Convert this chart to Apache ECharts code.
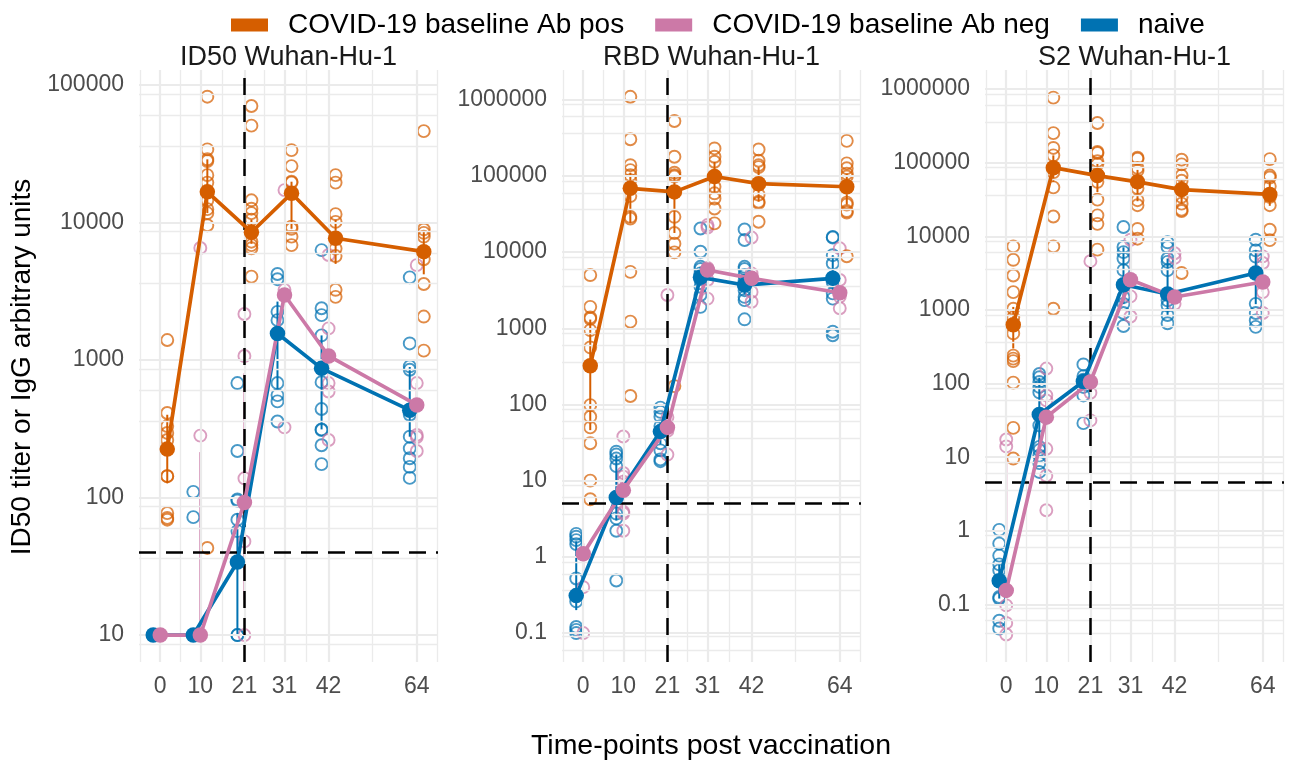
<!DOCTYPE html>
<html><head><meta charset="utf-8">
<script src="https://cdn.jsdelivr.net/npm/echarts@6/dist/echarts.min.js"></script>
<style>html,body{margin:0;padding:0;background:#fff}#c{width:1295px;height:763px}</style>
</head><body><div id="c"></div><script>
// ---------------- DATA ----------------
const timePoints = [0, 10, 21, 31, 42, 64];
const timeTickLabels = ['0', '10', '21', '31', '42', '64'];
const minorTimeGrid = [-5, 5, 15.5, 26, 36.5, 53, 69];
const groupNames = ['COVID-19 baseline Ab pos', 'COVID-19 baseline Ab neg', 'naive'];
const panelTitles = ['ID50 Wuhan-Hu-1', 'RBD Wuhan-Hu-1', 'S2 Wuhan-Hu-1'];
const thresholds = [40, 5, 4.55];

// ID50 panel
const id50PosPts = [
  [1397, 412, 331, 295, 262, 143, 143, 77, 71, 69],
  [82200, 34000, 28800, 28000, 22100, 19500, 14500, 12500, 11700, 9550, 43],
  [70300, 50600, 14500, 12600, 11700, 10500, 7250, 6850, 6500, 4040],
  [33600, 25700, 19800, 19500, 9340, 9000, 7890, 6850],
  [22100, 19500, 11500, 10100, 6460, 5700, 3240, 2880],
  [46200, 8900, 8400, 7900, 5400, 3570, 2070, 1170]
];
const id50NegPts = [
  [10, 10, 10, 10, 10],
  [6530, 282, 10, 10, 10],
  [2160, 1070, 138, 48, 10],
  [17200, 3240, 324],
  [5800, 1700, 680, 590, 262],
  [4900, 680, 285, 275, 218]
];
const id50NaivePts = [
  [10, 10, 10, 10, 10, 10],
  [110, 72, 10, 10, 10, 10],
  [680, 218, 97, 95, 69, 57, 10, 10],
  [4220, 3870, 2240, 1950, 680, 556, 500, 357],
  [6300, 2380, 2120, 1510, 690, 440, 313, 310, 240, 175],
  [3990, 1320, 900, 850, 400, 277, 228, 193, 167, 139]
];
const id50PosMean = [225, 16700, 8500, 16300, 7680, 6140];
const id50PosLo = [127, 11700, 7000, 9000, 5000, 4200];
const id50PosHi = [400, 28800, 10500, 19800, 10500, 8600];
const id50NegMean = [10, 10, 92, 2970, 1070, 471];
const id50NegLo = [10, 10, 18, 2700, 690, 280];
const id50NegHi = [10, 214, 800, 3300, 1600, 680];
const id50NaiveMean = [10, 10, 34, 1560, 870, 432];
const id50NaiveLo = [10, 10, 10, 600, 313, 277];
const id50NaiveHi = [10, 10, 77, 2660, 1510, 890];

// RBD panel
const rbdPosPts = [
  [4990, 1910, 1390, 1330, 946, 560, 98, 69, 50, 31, 10, 5.7],
  [1090000, 302000, 138000, 119000, 102000, 88000, 54300, 29000, 27500, 5500, 1220, 129],
  [525000, 178000, 110000, 102000, 98000, 29000, 17800, 12900, 9900, 174],
  [229000, 178000, 153000, 72000, 59000, 50500, 37300, 23800],
  [222000, 158000, 138000, 130000, 56700, 45800, 44000, 25000],
  [288000, 146000, 126000, 107000, 98000, 44500, 42000, 34500, 33000, 8800]
];
const rbdNegPts = [
  [1.1, 0.4, 0.1],
  [38, 12.6, 11.3, 9.7, 3.9, 3.7, 2.2],
  [2730, 68, 45, 22],
  [22600, 21000, 6200, 4300, 2450],
  [15500, 5250, 3000, 2230],
  [11200, 4300, 2600, 1830]
];
const rbdNaivePts = [
  [2.0, 1.84, 1.66, 1.47, 0.52, 0.26, 0.12, 0.11, 0.1],
  [24, 22, 19.5, 15.5, 3.7, 3.2, 2.2, 0.49],
  [91, 80, 69, 52, 31, 25, 19, 18],
  [20400, 10100, 6400, 6000, 5250, 4300, 3500, 2730, 1910],
  [19800, 14400, 6400, 6000, 5000, 4200, 3160, 2580, 2340, 1310],
  [15800, 15500, 9100, 7070, 4000, 2870, 2450, 900, 810]
];
const rbdPosMean = [322, 68600, 61600, 98000, 79000, 72000];
const rbdPosLo = [46, 24000, 17800, 59000, 45800, 42000];
const rbdPosHi = [1300, 110000, 98000, 153000, 130000, 107000];
const rbdNegMean = [1.1, 7.5, 50, 5810, 4520, 2920];
const rbdNegLo = [0.6, 4, 40, 4500, 3500, 2400];
const rbdNegHi = [1.5, 12, 65, 6500, 5500, 3600];
const rbdNaiveMean = [0.31, 6.0, 44, 4660, 3690, 4520];
const rbdNaiveLo = [0.2, 3, 30, 3500, 2800, 2870];
const rbdNaiveHi = [1.6, 22, 60, 6400, 5000, 9100];

// S2 panel
const s2PosPts = [
  [7310, 4800, 2940, 1750, 1040, 795, 480, 240, 218, 202, 103, 25, 9.6],
  [768000, 253000, 159000, 126000, 74000, 46300, 18600, 7310, 1040],
  [347000, 140000, 135000, 105000, 96000, 55000, 31600, 19300, 14800, 6600],
  [117000, 113000, 85000, 78000, 45000, 31000, 26500, 12600, 9300],
  [110000, 95000, 67000, 57000, 34300, 27800, 23000, 22000, 3180],
  [112000, 67000, 63000, 48000, 34300, 26500, 12300, 8900]
];
const s2NegPts = [
  [17.4, 14, 0.097, 0.056, 0.039],
  [160, 69, 59, 13, 5.6, 1.9],
  [4600, 75, 31.6],
  [9000, 1530, 815],
  [5900, 5100, 1210],
  [5350, 4340, 1750, 910]
];
const s2NaivePts = [
  [1.03, 0.67, 0.46, 0.35, 0.29, 0.126, 0.12, 0.06, 0.047],
  [135, 122, 105, 90, 76, 27, 13.8, 12.5, 10.5, 8.3, 6.3],
  [182, 126, 113, 90, 69, 29],
  [13400, 7160, 6100, 5000, 3470, 1500, 1210, 910, 605],
  [8300, 7160, 5000, 4500, 3470, 1350, 1150, 855, 660],
  [9000, 6460, 5300, 1210, 910, 720, 590]
];
const s2PosMean = [630, 85700, 67000, 55000, 43200, 37100];
const s2PosLo = [300, 55000, 40000, 30000, 28000, 26000];
const s2PosHi = [1100, 126000, 100000, 80000, 60000, 55000];
const s2NegMean = [0.155, 35, 105, 2570, 1500, 2400];
const s2NegLo = [0.06, 8, 75, 1500, 1200, 1750];
const s2NegHi = [10, 60, 120, 8500, 5100, 4300];
const s2NaiveMean = [0.21, 38, 107, 2200, 1650, 3180];
const s2NaiveLo = [0.12, 13, 90, 1200, 850, 1200];
const s2NaiveHi = [0.35, 120, 126, 7100, 5000, 6460];

// ---------------- LAYOUT / STYLE ----------------
const FONT = '"Liberation Sans", Arial, Helvetica, sans-serif';
const colors = ['#D55E00', '#CC79A7', '#0072B2'];
const dodge = [1.75, 0, -1.75];
const drawOrder = [2, 1, 0];
const gridBoxes = [
  { left: 139, top: 70, width: 299, height: 592 },
  { left: 562, top: 70, width: 299, height: 592 },
  { left: 985, top: 70, width: 299, height: 592 }
];
const yRanges = [[6.37, 128500], [0.0417, 2450000], [0.0165, 1820000]];
const xRange = [-5.3, 69.3];

const panels = [
  { pts: [id50PosPts, id50NegPts, id50NaivePts], mean: [id50PosMean, id50NegMean, id50NaiveMean],
    lo: [id50PosLo, id50NegLo, id50NaiveLo], hi: [id50PosHi, id50NegHi, id50NaiveHi] },
  { pts: [rbdPosPts, rbdNegPts, rbdNaivePts], mean: [rbdPosMean, rbdNegMean, rbdNaiveMean],
    lo: [rbdPosLo, rbdNegLo, rbdNaiveLo], hi: [rbdPosHi, rbdNegHi, rbdNaiveHi] },
  { pts: [s2PosPts, s2NegPts, s2NaivePts], mean: [s2PosMean, s2NegMean, s2NaiveMean],
    lo: [s2PosLo, s2NegLo, s2NaiveLo], hi: [s2PosHi, s2NegHi, s2NaiveHi] }
];

const GRID_COLOR = '#EBEBEB';
function gridLines(p) {
  const d = [];
  timePoints.forEach(t => d.push({ xAxis: t, lineStyle: { color: GRID_COLOR, width: 2.2, type: 'solid' } }));
  minorTimeGrid.forEach(t => d.push({ xAxis: t, lineStyle: { color: GRID_COLOR, width: 1.3, type: 'solid' } }));
  const [lo, hi] = yRanges[p];
  for (let k = Math.floor(Math.log10(lo)) - 1; k <= Math.ceil(Math.log10(hi)) + 1; k++) {
    const major = Math.pow(10, k);
    if (major >= lo && major <= hi) d.push({ yAxis: major, lineStyle: { color: GRID_COLOR, width: 2.2, type: 'solid' } });
    [0.36, 0.6, 0.86].forEach(f => {
      const v = f * major;
      if (v >= lo && v <= hi) d.push({ yAxis: v, lineStyle: { color: GRID_COLOR, width: 1.3, type: 'solid' } });
    });
  }
  return d;
}

function fmtLog(v) {
  const l = Math.log10(v);
  const r = Math.round(l);
  if (Math.abs(l - r) > 1e-6) return '';
  return r < 0 ? Math.pow(10, r).toFixed(-r) : String(Math.round(Math.pow(10, r)));
}

const grid = [], xAxis = [], yAxis = [], series = [];
panels.forEach((P, p) => {
  grid.push(Object.assign({ containLabel: false }, gridBoxes[p]));
  xAxis.push({
    type: 'value', gridIndex: p, min: xRange[0], max: xRange[1],
    axisLine: { show: false }, axisTick: { show: false }, splitLine: { show: false },
    axisLabel: {
      customValues: timePoints, margin: 13, fontSize: 23, color: '#4D4D4D', fontFamily: FONT,
      formatter: v => timeTickLabels[timePoints.indexOf(v)] ?? ''
    }
  });
  yAxis.push({
    type: 'log', logBase: 10, gridIndex: p, min: yRanges[p][0], max: yRanges[p][1], splitNumber: 8,
    axisLine: { show: false }, axisTick: { show: false }, splitLine: { show: false }, minorSplitLine: { show: false },
    axisLabel: { margin: 15, fontSize: 23, color: '#4D4D4D', fontFamily: FONT, formatter: fmtLog,
      showMinLabel: true, showMaxLabel: true, hideOverlap: false }
  });
  // background grid
  series.push({
    type: 'line', xAxisIndex: p, yAxisIndex: p, data: [], z: 1, silent: true,
    markLine: { silent: true, symbol: ['none', 'none'], label: { show: false }, animation: false, data: gridLines(p) }
  });
  // raw points
  drawOrder.forEach(g => {
    const data = [];
    P.pts[g].forEach((arr, ti) => arr.forEach(v => data.push([timePoints[ti] + dodge[g], v])));
    series.push({
      type: 'scatter', name: groupNames[g] + ' points', xAxisIndex: p, yAxisIndex: p, z: 2,
      symbol: 'circle', symbolSize: 12, data,
      itemStyle: { color: 'rgba(255,255,255,0)', borderColor: colors[g], borderWidth: 1.9, opacity: 0.72 },
      emphasis: { disabled: true }
    });
  });
  // reference dashed lines
  series.push({
    type: 'line', xAxisIndex: p, yAxisIndex: p, data: [], z: 3, silent: true,
    markLine: {
      silent: true, symbol: ['none', 'none'], label: { show: false }, animation: false,
      lineStyle: { color: '#000', width: 2.5, type: [17, 10] },
      data: [{ xAxis: 21 }, { yAxis: thresholds[p] }]
    }
  });
  // error bars
  drawOrder.forEach(g => {
    const data = timePoints.map((t, ti) => [t + dodge[g], P.lo[g][ti], P.hi[g][ti]]);
    series.push({
      type: 'custom', name: groupNames[g] + ' err', xAxisIndex: p, yAxisIndex: p, z: 4, silent: true,
      data, encode: { x: 0, y: [1, 2] },
      renderItem: (params, api) => {
        const a = api.coord([api.value(0), api.value(1)]);
        const b = api.coord([api.value(0), api.value(2)]);
        return { type: 'line', shape: { x1: a[0], y1: a[1], x2: b[0], y2: b[1] },
          style: { stroke: colors[g], lineWidth: 2 } };
      }
    });
  });
  // mean lines
  drawOrder.forEach(g => {
    series.push({
      type: 'line', name: groupNames[g], xAxisIndex: p, yAxisIndex: p, z: 5,
      data: timePoints.map((t, ti) => [t + dodge[g], P.mean[g][ti]]),
      symbol: 'circle', symbolSize: 15.5, showSymbol: true,
      lineStyle: { color: colors[g], width: 3.7 },
      itemStyle: { color: colors[g], borderWidth: 0 },
      emphasis: { disabled: true }
    });
  });
});

const graphic = [];
panelTitles.forEach((t, p) => {
  graphic.push({ type: 'text', x: gridBoxes[p].left + gridBoxes[p].width / 2, y: 58,
    style: { text: t, fontSize: 27, fontFamily: FONT, fill: '#1A1A1A', align: 'center', verticalAlign: 'middle' } });
});
graphic.push({ type: 'text', x: 711, y: 746,
  style: { text: 'Time-points post vaccination', fontSize: 28.5, fontFamily: FONT, fill: '#000', align: 'center', verticalAlign: 'middle' } });
graphic.push({ type: 'text', x: 22, y: 367, rotation: Math.PI / 2,
  style: { text: 'ID50 titer or IgG arbitrary units', fontSize: 28, fontFamily: FONT, fill: '#000', align: 'center', verticalAlign: 'middle' } });

const chart = echarts.init(document.getElementById('c'), null, { renderer: 'canvas' });
chart.setOption({
  animation: false,
  backgroundColor: '#fff',
  textStyle: { fontFamily: FONT },
  legend: {
    left: 226, top: 6, itemWidth: 37, itemHeight: 13, itemGap: 31, selectedMode: false,
    data: groupNames.map((n, i) => ({ name: n, icon: 'rect', itemStyle: { color: colors[i] } })),
    textStyle: { fontSize: 28, color: '#000', fontFamily: FONT, padding: [0, 0, 0, 15] }
  },
  grid, xAxis, yAxis, series, graphic
});
</script></body></html>
